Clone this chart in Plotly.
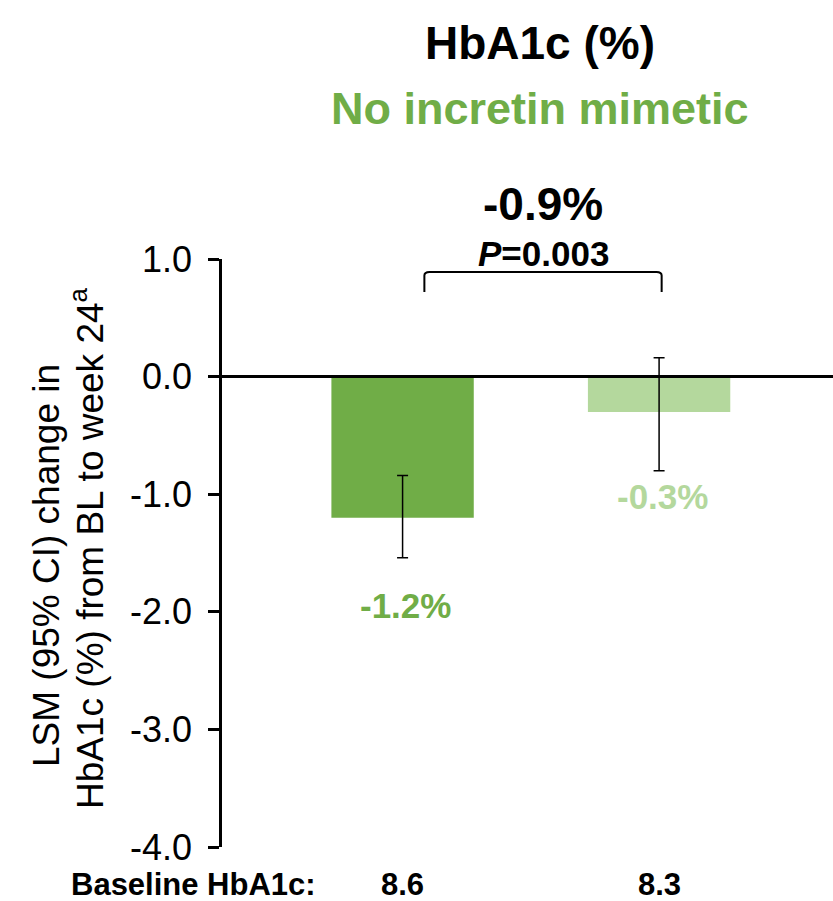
import plotly.graph_objects as go

# Treatment arms and least-squares mean change in HbA1c (%)
groups = ["Arm A", "Arm B"]
lsm_change = [-1.2, -0.3]
ci_lower = [-1.54, -0.80]
ci_upper = [-0.84, 0.16]
baseline_hba1c = ["8.6", "8.3"]
bar_colors = ["#70AD47", "#B4D89D"]

difference_label = "-0.9%"
p_value_label = "<i>P</i>=0.003"

y_ticks = [1.0, 0.0, -1.0, -2.0, -3.0, -4.0]
y_tick_text = [f"{t:.1f}" for t in y_ticks]

FONT = "Liberation Sans, Arial, sans-serif"

# plot area in pixels
M_L, M_T, M_B, W, H = 222, 259, 54, 833, 901
PLOT_W = W - M_L
PLOT_H = H - M_T - M_B

xpos = list(range(len(groups)))
err_plus = [u - v for u, v in zip(ci_upper, lsm_change)]
err_minus = [v - l for v, l in zip(lsm_change, ci_lower)]

fig = go.Figure()
fig.add_trace(go.Bar(
    x=xpos,
    y=lsm_change,
    width=0.555,
    marker=dict(color=bar_colors, line=dict(width=0)),
    error_y=dict(type="data", symmetric=False, array=err_plus,
                 arrayminus=err_minus, color="#000000",
                 thickness=1.5, width=5.5),
    hoverinfo="skip",
))

# Value labels beneath each interval
label_gap = [-48, -26]
for x, v, lo, c, g in zip(xpos, lsm_change, ci_lower, bar_colors, label_gap):
    fig.add_annotation(x=x, y=lo, xref="x", yref="y",
                       text=f"<b>{v:.1f}%</b>", showarrow=False,
                       font=dict(family=FONT, size=35, color=c),
                       yanchor="middle", yshift=g, xshift=3)

# Baseline HbA1c row
fig.add_annotation(x=0, y=-4.0, xref="paper", yref="y",
                   text="<b>Baseline HbA1c:</b>", showarrow=False,
                   font=dict(family=FONT, size=31, color="#000000"),
                   xanchor="center", yanchor="middle",
                   xshift=-29, yshift=-37)
for x, b in zip(xpos, baseline_hba1c):
    fig.add_annotation(x=x, y=-4.0, xref="x", yref="y",
                       text=f"<b>{b}</b>", showarrow=False,
                       font=dict(family=FONT, size=31, color="#000000"),
                       yanchor="middle", yshift=-37)

# Zero reference line across the plot
fig.add_shape(type="line", xref="paper", yref="y", x0=0, x1=1, y0=0, y1=0,
              line=dict(color="#000000", width=3))

# Comparison bracket between the arms
bx0, bx1, btop, bbot = 0.085, 1.01, 0.89, 0.72
fig.add_shape(type="path", xref="x", yref="y",
              path=(f"M {bx0} {bbot} L {bx0} {btop - 0.03} "
                    f"Q {bx0} {btop} {bx0 + 0.02} {btop} "
                    f"L {bx1 - 0.02} {btop} "
                    f"Q {bx1} {btop} {bx1} {btop - 0.03} L {bx1} {bbot}"),
              line=dict(color="#000000", width=2))


def px_x(px):
    return (px - M_L) / PLOT_W


def px_y(py):
    return 1 - (py - M_T) / PLOT_H


fig.add_annotation(x=px_x(543), y=px_y(204), xref="paper", yref="paper",
                   text=f"<b>{difference_label}</b>", showarrow=False,
                   font=dict(family=FONT, size=46, color="#000000"),
                   xanchor="center", yanchor="middle")
fig.add_annotation(x=px_x(543), y=px_y(254), xref="paper", yref="paper",
                   text=f"<b>{p_value_label}</b>", showarrow=False,
                   font=dict(family=FONT, size=35, color="#000000"),
                   xanchor="center", yanchor="middle")

# Titles
fig.add_annotation(x=px_x(540), y=px_y(43), xref="paper", yref="paper",
                   text="<b>HbA1c (%)</b>", showarrow=False,
                   font=dict(family=FONT, size=46, color="#000000"),
                   xanchor="center", yanchor="middle")
fig.add_annotation(x=px_x(540), y=px_y(108), xref="paper", yref="paper",
                   text="<b>No incretin mimetic</b>", showarrow=False,
                   font=dict(family=FONT, size=45, color="#70AD47"),
                   xanchor="center", yanchor="middle")

# Y-axis title, two rotated lines
fig.add_annotation(x=px_x(46), y=px_y(566), xref="paper", yref="paper",
                   text="LSM (95% CI) change in",
                   showarrow=False, textangle=-90,
                   font=dict(family=FONT, size=37, color="#000000"),
                   xanchor="center", yanchor="middle")
fig.add_annotation(x=px_x(87), y=px_y(548), xref="paper", yref="paper",
                   text="HbA1c (%) from BL to week 24<sup>a</sup>",
                   showarrow=False, textangle=-90,
                   font=dict(family=FONT, size=37, color="#000000"),
                   xanchor="center", yanchor="middle")

fig.update_layout(
    width=W, height=H,
    margin=dict(l=M_L, r=0, t=M_T, b=M_B),
    paper_bgcolor="#FFFFFF", plot_bgcolor="#FFFFFF",
    showlegend=False,
    xaxis=dict(range=[-0.704, 1.678], visible=False, fixedrange=True),
    yaxis=dict(range=[-4.0, 1.0], tickvals=y_ticks, ticktext=y_tick_text,
               showline=True, linecolor="#000000", linewidth=2.5,
               ticks="outside", ticklen=11, tickwidth=2.5,
               tickcolor="#000000", showgrid=False, zeroline=False,
               tickfont=dict(family=FONT, size=36, color="#000000"),
               ticklabelstandoff=9),
)

fig.write_html("out.html")
